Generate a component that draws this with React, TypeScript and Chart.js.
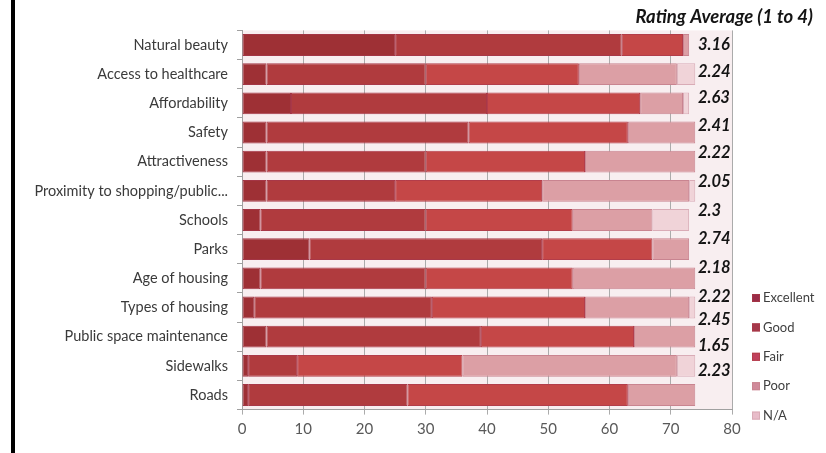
import React, { useEffect, useRef } from "react";
import { Chart, registerables } from "chart.js";
Chart.register(...registerables);

const categories = [
  "Natural beauty",
  "Access to healthcare",
  "Affordability",
  "Safety",
  "Attractiveness",
  "Proximity to shopping/public...",
  "Schools",
  "Parks",
  "Age of housing",
  "Types of housing",
  "Public space maintenance",
  "Sidewalks",
  "Roads",
];
const excellent = [25, 4, 8, 4, 4, 4, 3, 11, 3, 2, 4, 1, 1];
const good = [37, 26, 32, 33, 26, 21, 27, 38, 27, 29, 35, 8, 26];
const fair = [10, 25, 25, 26, 26, 24, 24, 18, 24, 25, 25, 27, 36];
const poor = [1, 16, 7, 11, 18, 24, 13, 6, 20, 17, 10, 35, 11];
const na = [0, 3, 1, 0, 0, 1, 6, 0, 0, 1, 0, 3, 0];
const ratings = ["3.16", "2.24", "2.63", "2.41", "2.22", "2.05", "2.3", "2.74", "2.18", "2.22", "2.45", "1.65", "2.23"];
const seriesNames = ["Excellent", "Good", "Fair", "Poor", "N/A"];
const header = "Rating Average (1 to 4)";

// layout / style constants
const RATING_Y = [45, 72, 98, 126, 153, 182, 211, 239, 268, 297, 320, 346, 371];
const FILLS = ["#9e3035", "#b03b3e", "#c54747", "#dc9fa5", "#f0d3d8"];
const BORDERS = ["#a33545", "#a83848", "#b33d4a", "#c98490", "#d9abb6"];
const LEGEND_FILLS = ["#9b2c48", "#a5384a", "#c0405c", "#d08a9a", "#e8bcc9"];

const overlay = {
  id: "overlay",
  beforeDraw(chart: any) {
    const { ctx, chartArea: a } = chart;
    ctx.save();
    ctx.fillStyle = "#f8eef0";
    ctx.fillRect(a.left, a.top, a.right - a.left, a.bottom - a.top);
    ctx.restore();
  },
  afterDraw(chart: any) {
    const ctx = chart.ctx as CanvasRenderingContext2D;
    ctx.save();
    ctx.fillStyle = "#141414";
    ctx.textBaseline = "middle";
    ctx.textAlign = "right";
    ctx.font = "italic bold 18.5px Lato";
    ctx.fillText(header, 813, 17);
    ctx.textAlign = "left";
    ctx.font = "italic bold 16.5px Lato";
    ratings.forEach((r, i) => ctx.fillText(r, 698, RATING_Y[i]));
    ctx.font = "13px Lato";
    chart.data.datasets.forEach((ds: any, i: number) => {
      const y = 298 + i * 29.4;
      ctx.fillStyle = LEGEND_FILLS[i];
      ctx.fillRect(752, y - 4, 8, 8);
      ctx.strokeStyle = BORDERS[i];
      ctx.lineWidth = 1;
      ctx.strokeRect(752.5, y - 3.5, 7, 7);
      ctx.fillStyle = "#404040";
      ctx.fillText(ds.label, 763, y);
    });
    ctx.restore();
  },
};

export default function App() {
  const ref = useRef<HTMLCanvasElement>(null);
  useEffect(() => {
    if (!ref.current) return;
    const values = [excellent, good, fair, poor, na];
    const chart = new Chart(ref.current, {
      type: "bar",
      data: {
        labels: categories,
        datasets: seriesNames.map((name, i) => ({
          label: name,
          data: values[i],
          backgroundColor: FILLS[i],
          borderColor: BORDERS[i],
          borderWidth: 1,
          borderSkipped: false,
          barPercentage: 0.75,
          categoryPercentage: 1,
        })),
      },
      options: {
        indexAxis: "y",
        responsive: false,
        animation: false,
        devicePixelRatio: 1,
        layout: { padding: { left: 0, right: 94, top: 30.4, bottom: 0 } },
        plugins: { legend: { display: false }, tooltip: { enabled: false } },
        scales: {
          x: {
            stacked: true,
            min: 0,
            max: 80,
            ticks: { stepSize: 10, color: "#595959", font: { family: "Lato", size: 15 }, padding: 6 },
            grid: { color: "#ababab", tickLength: 5, drawTicks: true },
            border: { color: "#a0a0a0" },
            afterFit: (s: any) => {
              s.height = 43.4;
            },
          },
          y: {
            stacked: true,
            ticks: { color: "#3a3a3a", font: { family: "Lato", size: 14.5 }, padding: 9, autoSkip: false },
            grid: { drawOnChartArea: false, color: "#a0a0a0", tickLength: 5, offset: true },
            border: { color: "#a0a0a0" },
            afterFit: (s: any) => {
              s.width = 242;
            },
          },
        },
      },
      plugins: [overlay],
    } as any);
    return () => chart.destroy();
  }, []);
  return (
    <div style={{ position: "absolute", left: 0, top: 0, width: 826, height: 453, background: "#fff" }}>
      <canvas ref={ref} width={826} height={453} style={{ display: "block" }} />
      <div style={{ position: "absolute", left: 11, top: 0, width: 4, height: 453, background: "#000" }} />
    </div>
  );
}
